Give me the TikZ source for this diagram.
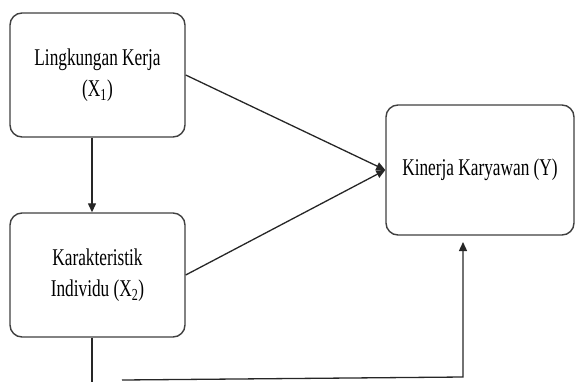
\documentclass[tikz,border=0pt]{standalone}
\usepackage{fontspec}
\setmainfont{Liberation Serif}[FakeStretch=0.72]
\usetikzlibrary{arrows.meta}
\begin{document}
\begin{tikzpicture}[x=1pt,y=-1pt,
  box/.style={draw=black!75, line width=1.4pt, rounded corners=12pt, fill=white,
    align=center, inner sep=0pt, font=\fontsize{24}{31}\selectfont},
  conn/.style={draw=black!85, line width=1.3pt},
  arr/.style={conn, -{Triangle[length=9pt,width=8pt]}}]
\useasboundingbox (0,0) rectangle (575,381);
\node[box, minimum width=175pt, minimum height=124pt] (b1) at (97.5,75) {Lingkungan Kerja\\(X\textsubscript{1})};
\node[box, minimum width=175pt, minimum height=124pt] (b2) at (97.5,275) {Karakteristik\\Individu (X\textsubscript{2})};
\node[box, minimum width=188pt, minimum height=130pt] (b3) at (480,170) {Kinerja Karyawan (Y)};
\coordinate (d1) at (92,383);
\coordinate (h1) at (122,380);
\coordinate (h2) at (463,377);
\coordinate (t3) at (463,242);
\draw[arr] (b1.east) -- (b3.west);
\draw[arr] (b2.east) -- (b3.west);
\draw[arr] ([xshift=-5.5pt]b1.south) -- ([xshift=-5.5pt]b2.north);
\draw[conn] ([xshift=-5.5pt]b2.south) -- (d1);
\draw[arr] (h1) -- (h2) -- (t3);
\end{tikzpicture}
\end{document}
